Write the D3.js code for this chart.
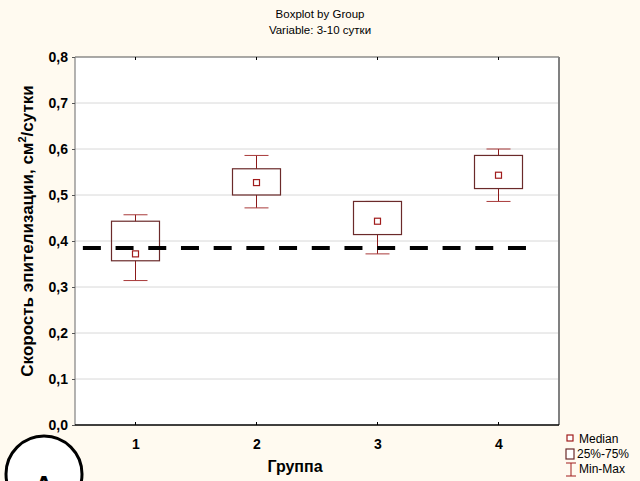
<!DOCTYPE html>
<html>
<head>
<meta charset="utf-8">
<script src="https://cdn.jsdelivr.net/npm/d3@7"></script>
<style>
  body { margin: 0; background: #fffaf0; }
  svg { display: block; }
</style>
</head>
<body>
<svg></svg>
<script>
var width = 640;
var height = 481;

// data
var groups = [1, 2, 3, 4];
var medians = [0.372, 0.527, 0.443, 0.543];
var q1 = [0.357, 0.500, 0.414, 0.514];
var q3 = [0.443, 0.557, 0.486, 0.586];
var mins = [0.314, 0.472, 0.372, 0.486];
var maxs = [0.457, 0.586, 0.486, 0.600];
var yTicks = [0, 0.1, 0.2, 0.3, 0.4, 0.5, 0.6, 0.7, 0.8];
var refValue = 0.385;
var refSpan = [0.565, 4.23];

var boxData = groups.map(function(g, i){
	return {g: g, med: medians[i], q1: q1[i], q3: q3[i], min: mins[i], max: maxs[i]};
});

// plot edges (note: "top" is reserved on window)
var pLeft = 75, pRight = 559, pTop = 57, pBottom = 425;

var svg = d3.select('svg')
		.attr('width', width)
		.attr('height', height)
		.style('font-family', '"Liberation Sans", Arial, sans-serif');

svg.append('rect')
		.attr('width', width)
		.attr('height', height)
		.attr('fill', '#fffaf0');

var x = d3.scaleLinear()
		.domain([0.5, 4.5])
		.range([pLeft, pRight]);

var y = d3.scaleLinear()
		.domain([0, 0.8])
		.range([pBottom, pTop]);

// plot area
svg.append('rect')
		.attr('x', pLeft)
		.attr('y', pTop)
		.attr('width', pRight - pLeft)
		.attr('height', pBottom - pTop)
		.attr('fill', '#ffffff');

// grid
svg.append('g').selectAll('line')
		.data(yTicks.slice(1, -1))
		.enter().append('line')
		.attr('x1', pLeft)
		.attr('x2', pRight)
		.attr('y1', function(d){ return y(d); })
		.attr('y2', function(d){ return y(d); })
		.attr('stroke', '#d8d8d8')
		.attr('stroke-width', 1);

// frame
svg.append('line').attr('x1', pLeft).attr('x2', pRight).attr('y1', pTop).attr('y2', pTop)
		.attr('stroke', '#555').attr('stroke-width', 1.2);
svg.append('line').attr('x1', pRight).attr('x2', pRight).attr('y1', pTop).attr('y2', pBottom)
		.attr('stroke', '#808080').attr('stroke-width', 2);
svg.append('line').attr('x1', pLeft).attr('x2', pLeft).attr('y1', pTop).attr('y2', pBottom)
		.attr('stroke', '#808080').attr('stroke-width', 1.2);
svg.append('line').attr('x1', pLeft).attr('x2', pRight).attr('y1', pBottom).attr('y2', pBottom)
		.attr('stroke', '#000').attr('stroke-width', 1.5);

// y axis
var yAxis = d3.axisLeft(y)
		.tickValues(yTicks)
		.tickSize(3)
		.tickPadding(4)
		.tickFormat(function(d){ return d3.format('.1f')(d).replace('.', ','); });

var gy = svg.append('g')
		.attr('transform', 'translate(' + pLeft + ',0)')
		.call(yAxis);
gy.select('.domain').remove();
gy.selectAll('.tick line').attr('stroke', '#555');
gy.selectAll('text')
		.attr('fill', '#000')
		.style('font-size', '14px')
		.style('font-weight', 'bold');

// x axis
var xAxis = d3.axisBottom(x)
		.tickValues(groups)
		.tickSize(0)
		.tickPadding(14)
		.tickFormat(d3.format('d'));

var gx = svg.append('g')
		.attr('transform', 'translate(0,' + pBottom + ')')
		.call(xAxis);
gx.select('.domain').remove();
gx.selectAll('text')
		.attr('fill', '#000')
		.style('font-size', '14px')
		.style('font-weight', 'bold');

// small inner ticks top and bottom
svg.append('g').selectAll('line')
		.data(groups)
		.enter().append('line')
		.attr('x1', function(d){ return x(d); })
		.attr('x2', function(d){ return x(d); })
		.attr('y1', pTop)
		.attr('y2', pTop + 3)
		.attr('stroke', '#000');
svg.append('g').selectAll('line')
		.data(groups)
		.enter().append('line')
		.attr('x1', function(d){ return x(d); })
		.attr('x2', function(d){ return x(d); })
		.attr('y1', pBottom)
		.attr('y2', pBottom - 3)
		.attr('stroke', '#000');

// boxplots
var boxW = 48, capW = 24, medS = 6;
var boxes = svg.append('g').selectAll('g')
		.data(boxData)
		.enter().append('g');

boxes.append('line')
		.attr('x1', function(d){ return x(d.g); })
		.attr('x2', function(d){ return x(d.g); })
		.attr('y1', function(d){ return y(d.max); })
		.attr('y2', function(d){ return y(d.q3); })
		.attr('stroke', '#8b1a1a');
boxes.append('line')
		.attr('x1', function(d){ return x(d.g); })
		.attr('x2', function(d){ return x(d.g); })
		.attr('y1', function(d){ return y(d.q1); })
		.attr('y2', function(d){ return y(d.min); })
		.attr('stroke', '#8b1a1a');
boxes.append('line')
		.attr('x1', function(d){ return x(d.g) - capW / 2; })
		.attr('x2', function(d){ return x(d.g) + capW / 2; })
		.attr('y1', function(d){ return y(d.max); })
		.attr('y2', function(d){ return y(d.max); })
		.attr('stroke', '#a83a3a');
boxes.append('line')
		.attr('x1', function(d){ return x(d.g) - capW / 2; })
		.attr('x2', function(d){ return x(d.g) + capW / 2; })
		.attr('y1', function(d){ return y(d.min); })
		.attr('y2', function(d){ return y(d.min); })
		.attr('stroke', '#a83a3a');
boxes.append('rect')
		.attr('x', function(d){ return x(d.g) - boxW / 2; })
		.attr('width', boxW)
		.attr('y', function(d){ return y(d.q3); })
		.attr('height', function(d){ return y(d.q1) - y(d.q3); })
		.attr('fill', 'none')
		.attr('stroke', '#6b2a2a')
		.attr('stroke-width', 1.2);

// reference dashed line (drawn over boxes, under medians)
svg.append('line')
		.attr('x1', x(refSpan[0]))
		.attr('x2', x(refSpan[1]))
		.attr('y1', y(refValue))
		.attr('y2', y(refValue))
		.attr('stroke', '#000')
		.attr('stroke-width', 4)
		.attr('stroke-dasharray', '18,14.7');

boxes.append('rect')
		.attr('x', function(d){ return x(d.g) - medS / 2; })
		.attr('y', function(d){ return y(d.med) - medS / 2; })
		.attr('width', medS)
		.attr('height', medS)
		.attr('fill', '#fff')
		.attr('stroke', '#a01c1c')
		.attr('stroke-width', 1.2);

// titles
svg.append('text')
		.attr('x', 320).attr('y', 18)
		.attr('text-anchor', 'middle')
		.style('font-size', '11.5px')
		.text('Boxplot by Group');
svg.append('text')
		.attr('x', 320).attr('y', 34)
		.attr('text-anchor', 'middle')
		.style('font-size', '11.5px')
		.text('Variable: 3-10 сутки');

svg.append('text')
		.attr('x', 295).attr('y', 472)
		.attr('text-anchor', 'middle')
		.style('font-size', '16px')
		.style('font-weight', 'bold')
		.text('Группа');

var ylab = svg.append('text')
		.attr('transform', 'translate(33,231) rotate(-90)')
		.attr('text-anchor', 'middle')
		.style('font-size', '17px')
		.style('font-weight', 'bold');
ylab.append('tspan').text('Скорость эпителизации, см');
ylab.append('tspan').attr('dy', -7).style('font-size', '11px').text('2');
ylab.append('tspan').attr('dy', 7).text('/сутки');

// legend
var lx = 566;
svg.append('rect').attr('x', lx + 1).attr('y', 435).attr('width', 6).attr('height', 6)
		.attr('fill', '#fff').attr('stroke', '#a01c1c').attr('stroke-width', 1.2);
svg.append('text').attr('x', 579).attr('y', 443).style('font-size', '12px').text('Median');
svg.append('rect').attr('x', lx).attr('y', 449).attr('width', 8).attr('height', 10)
		.attr('fill', '#fff').attr('stroke', '#6b2a2a').attr('stroke-width', 1.2);
svg.append('text').attr('x', 577).attr('y', 458).style('font-size', '12px').text('25%-75%');
var mm = svg.append('g').attr('stroke', '#a01c1c');
mm.append('line').attr('x1', lx).attr('x2', lx + 10).attr('y1', 463).attr('y2', 463);
mm.append('line').attr('x1', lx + 5).attr('x2', lx + 5).attr('y1', 463).attr('y2', 476);
mm.append('line').attr('x1', lx).attr('x2', lx + 10).attr('y1', 476).attr('y2', 476);
svg.append('text').attr('x', 579).attr('y', 473).style('font-size', '12px').text('Min-Max');

// panel marker
svg.append('circle')
		.attr('cx', 44).attr('cy', 474).attr('r', 38)
		.attr('fill', '#fff')
		.attr('stroke', '#000')
		.attr('stroke-width', 3);
svg.append('text')
		.attr('x', 44).attr('y', 494)
		.attr('text-anchor', 'middle')
		.style('font-size', '26px')
		.style('font-weight', 'bold')
		.text('A');
</script>
</body>
</html>
